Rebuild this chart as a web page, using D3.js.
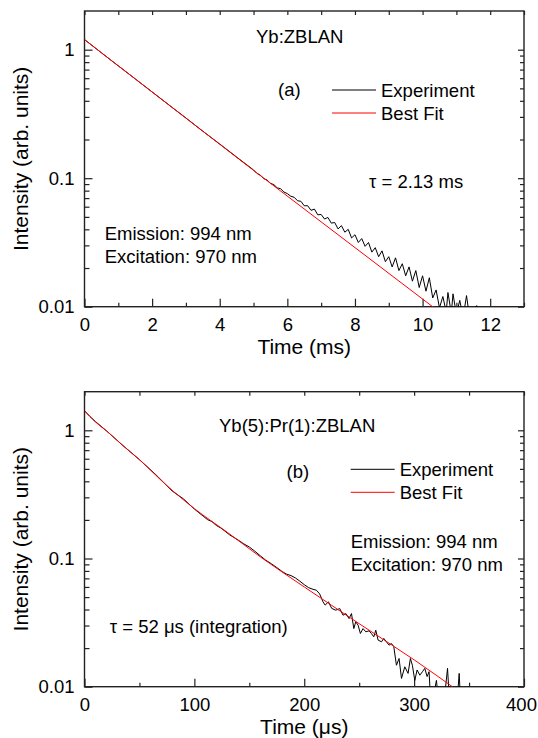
<!DOCTYPE html>
<html>
<head>
<meta charset="utf-8" />
<title></title>
<script src="https://cdn.jsdelivr.net/npm/d3@7"></script>
<style type="text/css">
    body { margin: 0; background: #fff; }
    text { font-family: "Liberation Sans", Arial, Helvetica, sans-serif; fill: #000; }
</style>
</head>
<body>
<div id="chart"></div>
<script type="text/javascript">
    // panel (a) Yb:ZBLAN, time in ms
    var expATime = [0, 0.5, 1, 1.5, 2, 2.5, 3, 3.5, 4, 4.5, 5,
        5.1, 5.2, 5.3, 5.4, 5.5, 5.6, 5.7, 5.8, 5.9, 6.0,
        6.1, 6.2, 6.3, 6.4, 6.5, 6.6, 6.7, 6.8, 6.9, 7.0,
        7.1, 7.2, 7.3, 7.4, 7.5, 7.6, 7.7, 7.8, 7.9, 8.0,
        8.1, 8.2, 8.3, 8.4, 8.5, 8.6, 8.7, 8.8, 8.9, 9.0,
        9.1, 9.2, 9.3, 9.4, 9.5, 9.6, 9.7, 9.8, 9.9, 10.0,
        10.1, 10.2, 10.3, 10.4, 10.5, 10.6, 10.7, 10.75, 10.85, 10.9,
        11.0, 11.1, 11.2, 11.3, 11.4, 11.6, 11.7];
    var expAInt = [1.20, 0.946, 0.748, 0.593, 0.469, 0.371, 0.294, 0.232, 0.1845, 0.146, 0.1159,
        0.109, 0.1057, 0.0993, 0.0968, 0.0912, 0.0891, 0.0841, 0.0828, 0.078, 0.0759,
        0.0724, 0.0711, 0.0668, 0.0661, 0.061, 0.0611, 0.0562, 0.0575, 0.0519, 0.0522,
        0.0481, 0.0495, 0.0447, 0.0452, 0.0403, 0.0427, 0.038, 0.040, 0.0343, 0.0363,
        0.0316, 0.0339, 0.0295, 0.0316, 0.0266, 0.0288, 0.0245, 0.0272, 0.0224, 0.0245,
        0.0204, 0.024, 0.0191, 0.0216, 0.0174, 0.0204, 0.0158, 0.0191, 0.0141, 0.0174,
        0.0132, 0.0168, 0.0117, 0.0135, 0.0098, 0.012, 0.0091, 0.0129, 0.0089, 0.0126,
        0.0087, 0.0112, 0.0083, 0.0122, 0.0079, 0.0102, 0.0079];
    var fitATime = [0, 5, 10.6];
    var fitAInt = [1.196, 0.115, 0.0087];

    // panel (b) Yb(5):Pr(1):ZBLAN, time in µs
    var expBTime = [0, 5, 10, 20, 35, 50, 65, 80, 90, 100,
        104, 108, 112, 116, 120, 124, 128, 132, 136, 140,
        145, 150, 155, 160, 165, 170, 175, 180, 184, 188,
        192, 196, 200, 204, 208, 211, 214, 217, 219, 222,
        225, 228.7, 232.3, 235.3, 237.8, 240.8, 243, 245.1, 246.9, 249,
        251.1, 253.5, 256, 259, 261.1, 263.3, 265.1, 267.2, 270.3, 272.4,
        274.8, 277.2, 279.4, 281.5, 283.9, 286.3, 288.5, 291.5, 294.5, 296.6,
        298.4, 300.6, 302.7, 305.2, 307.6, 309.7, 311.8, 313.6, 314.8, 318,
        320.3, 321.8, 328, 330.4, 331.9, 339.5, 341, 342];
    var expBInt = [1.42, 1.28, 1.17, 0.99, 0.76, 0.59, 0.45, 0.335, 0.292, 0.243,
        0.228, 0.214, 0.201, 0.194, 0.181, 0.173, 0.163, 0.153, 0.146, 0.139,
        0.130, 0.123, 0.114, 0.105, 0.097, 0.091, 0.085, 0.079, 0.0755, 0.0735,
        0.0705, 0.0665, 0.0625, 0.0592, 0.0575, 0.0566, 0.0530, 0.0460, 0.0433, 0.0459,
        0.0408, 0.0395, 0.0407, 0.0361, 0.0372, 0.034, 0.0372, 0.0284, 0.0321, 0.0302,
        0.026, 0.0284, 0.0268, 0.0273, 0.026, 0.0245, 0.0276, 0.0231, 0.0224, 0.0238,
        0.0224, 0.0211, 0.0217, 0.0205, 0.0147, 0.0166, 0.0116, 0.0143, 0.0127, 0.0166,
        0.0147, 0.0112, 0.0135, 0.0123, 0.0131, 0.0139, 0.012, 0.0131, 0.0085, 0.0088,
        0.0112, 0.0085, 0.0088, 0.0139, 0.0085, 0.0085, 0.0127, 0.0085];
    var fitBTime = [0, 5, 10, 20, 35, 50, 75, 100, 130, 160, 200, 250, 300, 340];
    var fitBInt = [1.42, 1.28, 1.16, 0.99, 0.76, 0.59, 0.37, 0.245, 0.16, 0.103, 0.060, 0.031, 0.0162, 0.0093];

    // tick values
    var yMajor = [0.01, 0.1, 1];
    var yMinor = [0.02, 0.03, 0.04, 0.05, 0.06, 0.07, 0.08, 0.09,
        0.2, 0.3, 0.4, 0.5, 0.6, 0.7, 0.8, 0.9];
    var xMajorA = [0, 2, 4, 6, 8, 10, 12];
    var xMinorA = [1, 3, 5, 7, 9, 11, 13];
    var xMajorB = [0, 100, 200, 300, 400];
    var xMinorB = [50, 150, 250, 350];

    var width = 538;
    var height = 738;
    var svg = d3.select("#chart")
        .append("svg")
        .attr("width", width)
        .attr("height", height);

    function drawPanel(id, box, xDomain, xMajor, xMinor, xTitle, expT, expI, fitT, fitI, fitCurve) {
        var x = d3.scaleLinear().domain(xDomain).range([box.left, box.right]);
        var y = d3.scaleLog().domain([0.01, 2]).range([box.bottom, box.top]);
        var g = svg.append("g");
        var axisColor = "#222";

        g.append("clipPath").attr("id", id)
            .append("rect")
            .attr("x", box.left).attr("y", box.top)
            .attr("width", box.right - box.left).attr("height", box.bottom - box.top);

        // bottom axis, ticks inward
        var bx = g.append("g").attr("transform", "translate(0," + box.bottom + ")")
            .call(d3.axisBottom(x).tickValues(xMajor).tickSize(-8).tickSizeOuter(0).tickPadding(11)
                .tickFormat(d3.format("d")));
        // last label sits on the page edge, nudge it in a little
        bx.selectAll(".tick text").filter(function (d) { return d === xDomain[1]; }).attr("dx", -3);
        g.append("g").attr("transform", "translate(0," + box.bottom + ")")
            .call(d3.axisBottom(x).tickValues(xMinor).tickSize(-4).tickFormat(""));
        // top axis
        g.append("g").attr("transform", "translate(0," + box.top + ")")
            .call(d3.axisTop(x).tickValues(xMajor.concat(xMinor)).tickSize(-4).tickFormat(""));
        // left axis
        g.append("g").attr("transform", "translate(" + box.left + ",0)")
            .call(d3.axisLeft(y).tickValues(yMajor).tickSize(-8).tickPadding(10)
                .tickFormat(function (d) { return d >= 1 ? "1" : String(d); }));
        g.append("g").attr("transform", "translate(" + box.left + ",0)")
            .call(d3.axisLeft(y).tickValues(yMinor).tickSize(-5).tickFormat(""));
        // right axis
        g.append("g").attr("transform", "translate(" + box.right + ",0)")
            .call(d3.axisRight(y).tickValues(yMajor).tickSize(-6).tickFormat(""));
        g.append("g").attr("transform", "translate(" + box.right + ",0)")
            .call(d3.axisRight(y).tickValues(yMinor).tickSize(-4).tickFormat(""));

        g.selectAll(".domain").remove();
        g.selectAll(".tick line").attr("stroke", axisColor).attr("stroke-width", 1.2);
        g.selectAll(".tick text").attr("font-size", "18.5px")
            .attr("font-family", "'Liberation Sans', Arial, sans-serif").attr("fill", "#000");

        g.append("rect")
            .attr("x", box.left).attr("y", box.top)
            .attr("width", box.right - box.left).attr("height", box.bottom - box.top)
            .attr("fill", "none").attr("stroke", axisColor).attr("stroke-width", 1.4);

        // data
        var expLine = d3.line()
            .x(function (d) { return x(d[0]); })
            .y(function (d) { return y(d[1]); });
        var fitLine = d3.line()
            .curve(fitCurve)
            .x(function (d) { return x(d[0]); })
            .y(function (d) { return y(d[1]); });

        g.append("path")
            .datum(d3.zip(expT, expI))
            .attr("clip-path", "url(#" + id + ")")
            .attr("fill", "none").attr("stroke", "#000").attr("stroke-width", 1)
            .attr("d", expLine);
        g.append("path")
            .datum(d3.zip(fitT, fitI))
            .attr("clip-path", "url(#" + id + ")")
            .attr("fill", "none").attr("stroke", "#f00").attr("stroke-width", 1)
            .attr("d", fitLine);

        // axis titles
        g.append("text")
            .attr("x", (box.left + box.right) / 2)
            .attr("y", box.bottom + 47)
            .attr("text-anchor", "middle")
            .attr("font-size", "21px")
            .text(xTitle);
        g.append("text")
            .attr("transform", "translate(28," + ((box.top + box.bottom) / 2) + ") rotate(-90)")
            .attr("text-anchor", "middle")
            .attr("font-size", "21px")
            .text("Intensity (arb. units)");

        return g;
    }

    function label(g, x, y, s) {
        g.append("text").attr("x", x).attr("y", y).attr("font-size", "18.5px").text(s);
    }

    function legend(g, x0, y0) {
        g.append("line").attr("x1", x0).attr("x2", x0 + 44).attr("y1", y0).attr("y2", y0)
            .attr("stroke", "#000").attr("stroke-width", 1);
        g.append("line").attr("x1", x0).attr("x2", x0 + 44).attr("y1", y0 + 23).attr("y2", y0 + 23)
            .attr("stroke", "#f00").attr("stroke-width", 1);
        label(g, x0 + 49, y0 + 6.7, "Experiment");
        label(g, x0 + 49, y0 + 29.7, "Best Fit");
    }

    var ga = drawPanel("clipA", { left: 84.5, right: 524, top: 11, bottom: 306.7 },
        [0, 13], xMajorA, xMinorA, "Time (ms)", expATime, expAInt, fitATime, fitAInt, d3.curveLinear);
    label(ga, 256, 42.7, "Yb:ZBLAN");
    label(ga, 278, 95.7, "(a)");
    legend(ga, 332, 90);
    label(ga, 369, 188.3, "\u03c4 = 2.13 ms");
    label(ga, 104.7, 240, "Emission: 994 nm");
    label(ga, 104.7, 263.3, "Excitation: 970 nm");

    var gb = drawPanel("clipB", { left: 84.5, right: 524, top: 391.7, bottom: 686.7 },
        [0, 400], xMajorB, xMinorB, "Time (\u03bcs)", expBTime, expBInt, fitBTime, fitBInt, d3.curveMonotoneX);
    label(gb, 219, 432.3, "Yb(5):Pr(1):ZBLAN");
    label(gb, 286.5, 478.3, "(b)");
    legend(gb, 350.7, 469.3);
    label(gb, 350.7, 548.3, "Emission: 994 nm");
    label(gb, 350.7, 571, "Excitation: 970 nm");
    label(gb, 109.8, 633.3, "\u03c4 = 52 \u03bcs (integration)");
</script>
</body>
</html>
